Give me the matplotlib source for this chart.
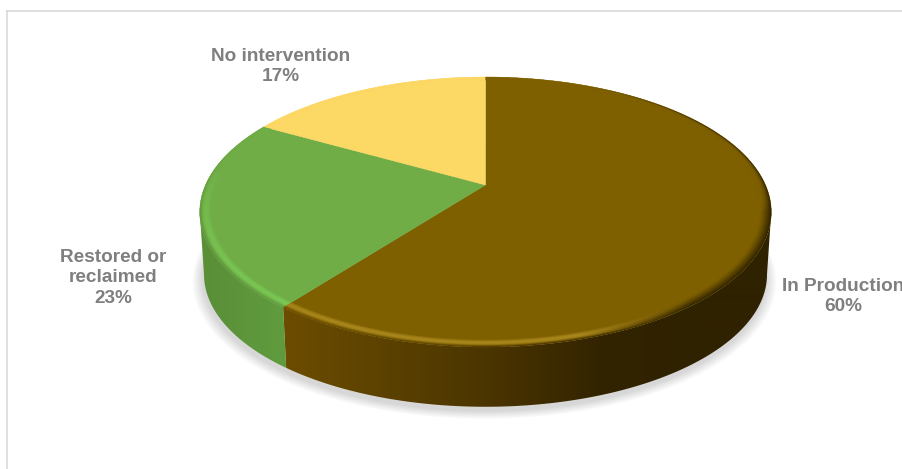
import numpy as np
import matplotlib
matplotlib.use("Agg")
import matplotlib.pyplot as plt
from matplotlib.patches import Polygon
from matplotlib.lines import Line2D

categories = ["In Production", "Restored or\nreclaimed", "No intervention"]
shares = [60.4, 22.8, 16.8]  # labels show them rounded
top_colors = ["#7F6000", "#70AD47", "#FCD864"]
rim_colors = ["#A8861C", "#7AC954", "#FCD864"]
label_pos = [(843, 296.5), (113, 278), (281, 66.5)]

W, H = 902, 469
CX, CY = 485.5, 185.0
A, B, K = 280.0, 129.6, 0.2
DEPTH, BASE_SCALE = 63.0, 0.985


def project(phi, r=1.0):
    x = r * np.sin(phi)
    y = r * np.cos(phi)
    w = 1 + K * y
    return CX + A * x / w, CY - B * y / w


def base(phi, r=1.0):
    x, y = project(phi, r)
    return CX + (x - CX) * BASE_SCALE, CY + (y - CY) * 0.98 + DEPTH


def unproject(px, py):
    v = CY - py
    y = v / (B - K * v)
    x = (px - CX) * (1 + K * y) / A
    return np.hypot(x, y), np.mod(np.arctan2(x, y), 2 * np.pi)


wall_x = [205, 285, 290, 480, 600, 690, 775]
wall_tables = [
    np.array([[0x6B, 0x4C, 0], [0x6B, 0x4C, 0], [0x6B, 0x4C, 0], [0x4C, 0x36, 0],
              [0x33, 0x24, 0], [0x2F, 0x22, 0], [0x2F, 0x22, 0]]) / 255,
    np.array([[0x5A, 0x8F, 0x38], [0x60, 0x9C, 0x3E], [0x60, 0x9C, 0x3E], [0x60, 0x9C, 0x3E],
              [0x60, 0x9C, 0x3E], [0x60, 0x9C, 0x3E], [0x60, 0x9C, 0x3E]]) / 255,
    np.array([[0xD0, 0xB0, 0x50]] * 7) / 255,
]


def wall_colour(i, x):
    return np.stack([np.interp(x, wall_x, wall_tables[i][:, c]) for c in range(3)], axis=-1)


fig = plt.figure(figsize=(W / 100, H / 100), dpi=100)
ax = fig.add_axes([0, 0, 1, 1])
ax.axis("off")

# Chart frame
for xs, ys in (([7, 7], [11, H]), ([7, W], [11, 11])):
    ax.add_line(Line2D(xs, ys, color="#D9D9D9", lw=1.2, zorder=1))

# Soft shadow under the pie
full = np.linspace(0, 2 * np.pi, 361)
bx, by = base(full)
n_layers = 20
for j in range(n_layers):
    grow = 1 + (n_layers - j) * 0.0019
    px = CX - 1 + (bx - CX) * grow
    py = CY + 4 + (by - CY) * grow
    ax.add_patch(Polygon(np.c_[px, py], closed=True, fc="#000000", ec="none",
                         alpha=0.009, zorder=2))

# Wedge limits from the shares
fractions = np.array(shares) / sum(shares)
edges = np.concatenate([[0], np.cumsum(fractions)]) * 2 * np.pi

# Side walls: a horizontal gradient clipped to each wedge's visible strip,
# which runs between the silhouette points of the projected disc
gx = np.arange(W) + 0.5
lo = np.arccos(-K)
hi = 2 * np.pi - lo
for i in range(len(shares)):
    a, b = max(edges[i], lo), min(edges[i + 1], hi)
    if b <= a:
        continue
    ph = np.linspace(a, b, 300)
    tx, ty = project(ph)
    ux, uy = base(ph)
    strip = Polygon(np.vstack([np.c_[tx, ty], np.c_[ux, uy][::-1]]), closed=True,
                    transform=ax.transData, fc="none", ec="none")
    ax.add_patch(strip)
    im = ax.imshow(wall_colour(i, gx)[None, :, :], extent=(0, W, H, 0), aspect="auto",
                   interpolation="bilinear", zorder=3)
    im.set_clip_path(strip)

# Top faces
for i in range(len(shares)):
    ph = np.linspace(edges[i], edges[i + 1], 300)
    x, y = project(ph)
    pts = np.vstack([[CX, CY], np.c_[x, y]])
    ax.add_patch(Polygon(pts, closed=True, fc=top_colors[i], ec=top_colors[i],
                         lw=0.3, zorder=4))

# Bevel on the rim of the top face, computed per pixel with 3x supersampling
SS = 3
sx = (np.arange(W * SS) + 0.5) / SS
sy = (np.arange(H * SS) + 0.5) / SS
gxx, gyy = np.meshgrid(sx, sy)
rr, pp = unproject(gxx, gyy)
valid = (CY - gyy) * K < B
R0 = 0.962
rgba = np.zeros(gxx.shape + (4,))
band = valid & (rr >= R0) & (rr <= 1.0)
t = (rr[band] - R0) / (1 - R0)
phi = pp[band]
x_b = gxx[band]
which = np.clip(np.searchsorted(edges, phi, side="right") - 1, 0, len(shares) - 1)
cols = np.zeros((t.size, 3))
low = np.clip(-np.cos(phi) + 0.1, 0, 1) ** 0.6
dark = np.clip((x_b - 580) / 110, 0, 1)
front = np.clip((-np.cos(phi) + 0.45) * 1.2, 0, 1)
back = np.clip((np.cos(phi) + 0.2) / 0.4, 0, 1)
for i in range(len(shares)):
    m = which == i
    top = np.array(matplotlib.colors.to_rgb(top_colors[i]))
    rim = np.array(matplotlib.colors.to_rgb(rim_colors[i]))
    s = (np.sin(np.pi * np.clip(t[m] * 1.15, 0, 1)) * low[m] * (1 - dark[m]))[:, None]
    c = top * (1 - s) + rim * s
    wall = wall_colour(i, x_b[m])
    # outer part of the band melts into the wall below it
    melt = (np.clip((t[m] - 0.55) / 0.45, 0, 1) ** 2 * front[m])[:, None]
    if i == 0:
        gamma = 1.2 + 4.5 * back[m]
        melt2 = (dark[m] * t[m] ** gamma)[:, None]
        melt = np.maximum(melt, melt2)
    c = c * (1 - melt) + wall * melt
    cols[m] = c
rgba[band] = np.concatenate([cols, np.ones((t.size, 1))], axis=1)
# premultiplied box average down to real pixels
prem = rgba.copy()
prem[..., :3] *= prem[..., 3:4]
prem = prem.reshape(H, SS, W, SS, 4).mean(axis=(1, 3))
alpha = prem[..., 3:4]
out = np.concatenate([np.divide(prem[..., :3], alpha, out=np.zeros_like(prem[..., :3]),
                                where=alpha > 0), alpha], axis=-1)
ax.imshow(out, extent=(0, W, H, 0), aspect="auto", interpolation="nearest", zorder=5)

ax.set_xlim(0, W)
ax.set_ylim(H, 0)

# Data labels
for cat, val, (lx, ly) in zip(categories, shares, label_pos):
    ax.text(lx, ly, f"{cat}\n{round(val)}%", ha="center", va="center", multialignment="center",
            family="Liberation Sans", fontweight="bold", fontsize=13.7,
            color="#7F7F7F", linespacing=1.27, zorder=6)

fig.savefig("out.png", dpi=100, facecolor="white")
